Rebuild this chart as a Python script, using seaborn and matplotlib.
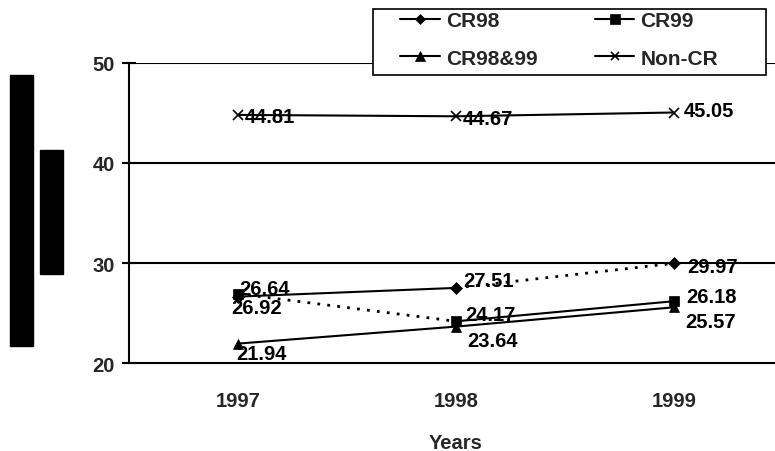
import matplotlib
matplotlib.use('Agg')
import matplotlib.pyplot as plt
import seaborn as sns
import pandas as pd
from matplotlib.lines import Line2D
from matplotlib.patches import Rectangle

# ---- data ----
years = ['1997', '1998', '1999']
series_names = ['CR98', 'CR99', 'CR98&99', 'Non-CR']
cr98 = [26.64, 27.51, 29.97]
cr99 = [26.92, 24.17, 26.18]
cr98_99 = [21.94, 23.64, 25.57]
non_cr = [44.81, 44.67, 45.05]
y_ticks = [20, 30, 40, 50]
x_title = 'Years'

values = {'CR98': cr98, 'CR99': cr99, 'CR98&99': cr98_99, 'Non-CR': non_cr}

# ---- styles ----
markers = {'CR98': 'D', 'CR99': 's', 'CR98&99': '^', 'Non-CR': 'x'}
msizes = {'CR98': 6, 'CR99': 7.5, 'CR98&99': 7.5, 'Non-CR': 7}
dotted = (0, (1.0, 2.6))
seg_styles = {
    'CR98': ['-', dotted],
    'CR99': [dotted, '-'],
    'CR98&99': ['-', '-'],
    'Non-CR': ['-', '-'],
}
# label offsets in pixels (dx, dy), ha
label_offsets = {
    'CR98': [(1, 8, 'left'), (7, 7, 'left'), (13, -3, 'left')],
    'CR99': [(-7, -14, 'left'), (9, 7, 'left'), (12, 5, 'left')],
    'CR98&99': [(-2, -10, 'left'), (11, -14, 'left'), (11, -14, 'left')],
    'Non-CR': [(7, -2, 'left'), (7, -2, 'left'), (10, 2, 'left')],
}

sns.set_style('white')
plt.rcParams['font.family'] = ['Liberation Sans', 'DejaVu Sans']
plt.rcParams['font.weight'] = 'bold'

W, H = 775, 452
fig = plt.figure(figsize=(W / 100, H / 100), dpi=100)
ax_left, ax_right, ax_top, ax_bottom = 129, 783, 64, 364
ax = fig.add_axes([ax_left / W, 1 - ax_bottom / H, (ax_right - ax_left) / W, (ax_bottom - ax_top) / H])

xs = list(range(len(years)))
for name in series_names:
    vals = values[name]
    for i in range(len(xs) - 1):
        df = pd.DataFrame({'x': xs[i:i + 2], 'y': vals[i:i + 2]})
        st = seg_styles[name][i]
        sns.lineplot(data=df, x='x', y='y', ax=ax, color='black',
                     linewidth=2.0 if st is dotted else 1.5,
                     linestyle=st, zorder=2)
for name in series_names:
    vals = values[name]
    df = pd.DataFrame({'x': xs, 'y': vals})
    sns.lineplot(data=df, x='x', y='y', ax=ax, color='black', linestyle='',
                 marker=markers[name], markersize=msizes[name],
                 markeredgewidth=1.2 if name == 'Non-CR' else 0.5,
                 markeredgecolor='black', zorder=3)
    for i, v in enumerate(vals):
        dx, dy, ha = label_offsets[name][i]
        ax.annotate(f'{v:.2f}', (xs[i], v), xytext=(dx, dy), textcoords='offset pixels',
                    ha=ha, va='center', fontsize=14.5, fontweight='bold', color='black', zorder=4)

ax.set_xlim(-0.5, len(years) - 0.5)
ax.set_ylim(y_ticks[0], y_ticks[-1])
ax.set_yticks(y_ticks)
ax.set_yticklabels([str(t) for t in y_ticks])
ax.set_xticks([i - 0.5 for i in range(len(years) + 1)])
ax.set_xticklabels([])
ax.set_xticks(xs, minor=True)
ax.set_xticklabels(years, minor=True)
ax.tick_params(axis='x', which='major', direction='out', length=8, width=1.5, color='black')
ax.tick_params(axis='x', which='minor', length=0, pad=20, labelsize=14.5)
ax.tick_params(axis='y', which='major', direction='inout', length=10, width=1.5, color='black',
               pad=5, labelsize=14.5, left=True)
for lbl in ax.get_xticklabels(minor=True) + ax.get_yticklabels():
    lbl.set_fontweight('bold')

ax.set_xlabel(x_title, fontsize=14.5, fontweight='bold')
ax.xaxis.set_label_coords(0.499, (ax_bottom - 434) / (ax_bottom - ax_top))
ax.set_ylabel('')

ax.grid(False)
for t in y_ticks[1:]:
    ax.axhline(t, color='black', linewidth=1.5, zorder=1)
ax.spines['top'].set_visible(False)
ax.spines['right'].set_visible(False)
ax.spines['left'].set_color('black')
ax.spines['bottom'].set_color('black')
ax.spines['left'].set_linewidth(1.5)
ax.spines['bottom'].set_linewidth(1.5)

# legend box (drawn separately so its size matches the reference)
fig.patches.append(Rectangle((373 / W, 1 - 76 / H), (766 - 373) / W, (76 - 10) / H,
                             transform=fig.transFigure, facecolor='white', edgecolor='black',
                             linewidth=1.2, zorder=4))
handles = [Line2D([0], [0], color='black', linewidth=1.5, marker=markers[n],
                  markersize=msizes[n] * 0.9, markeredgewidth=1.2 if n == 'Non-CR' else 0.5)
           for n in ['CR98', 'CR99', 'CR98&99', 'Non-CR']]
order = [0, 2, 1, 3]
names = ['CR98', 'CR99', 'CR98&99', 'Non-CR']
leg = fig.legend([handles[i] for i in order], [names[i] for i in order], ncol=2,
                 loc='upper left', bbox_to_anchor=(400 / W, 1 - 12 / H),
                 frameon=False, fontsize=15, handlelength=1.9, handletextpad=0.3,
                 borderpad=0, labelspacing=0.9, borderaxespad=0, columnspacing=2.75)
leg.set_zorder(6)
for t in leg.get_texts():
    t.set_fontweight('bold')

# redaction bars at the left
fig.patches.append(Rectangle((10 / W, 1 - 347 / H), 23 / W, (347 - 76) / H,
                             transform=fig.transFigure, color='black', zorder=5))
fig.patches.append(Rectangle((40 / W, 1 - 275 / H), 23 / W, (275 - 151) / H,
                             transform=fig.transFigure, color='black', zorder=5))

fig.savefig('out.png', dpi=100, facecolor='white')
